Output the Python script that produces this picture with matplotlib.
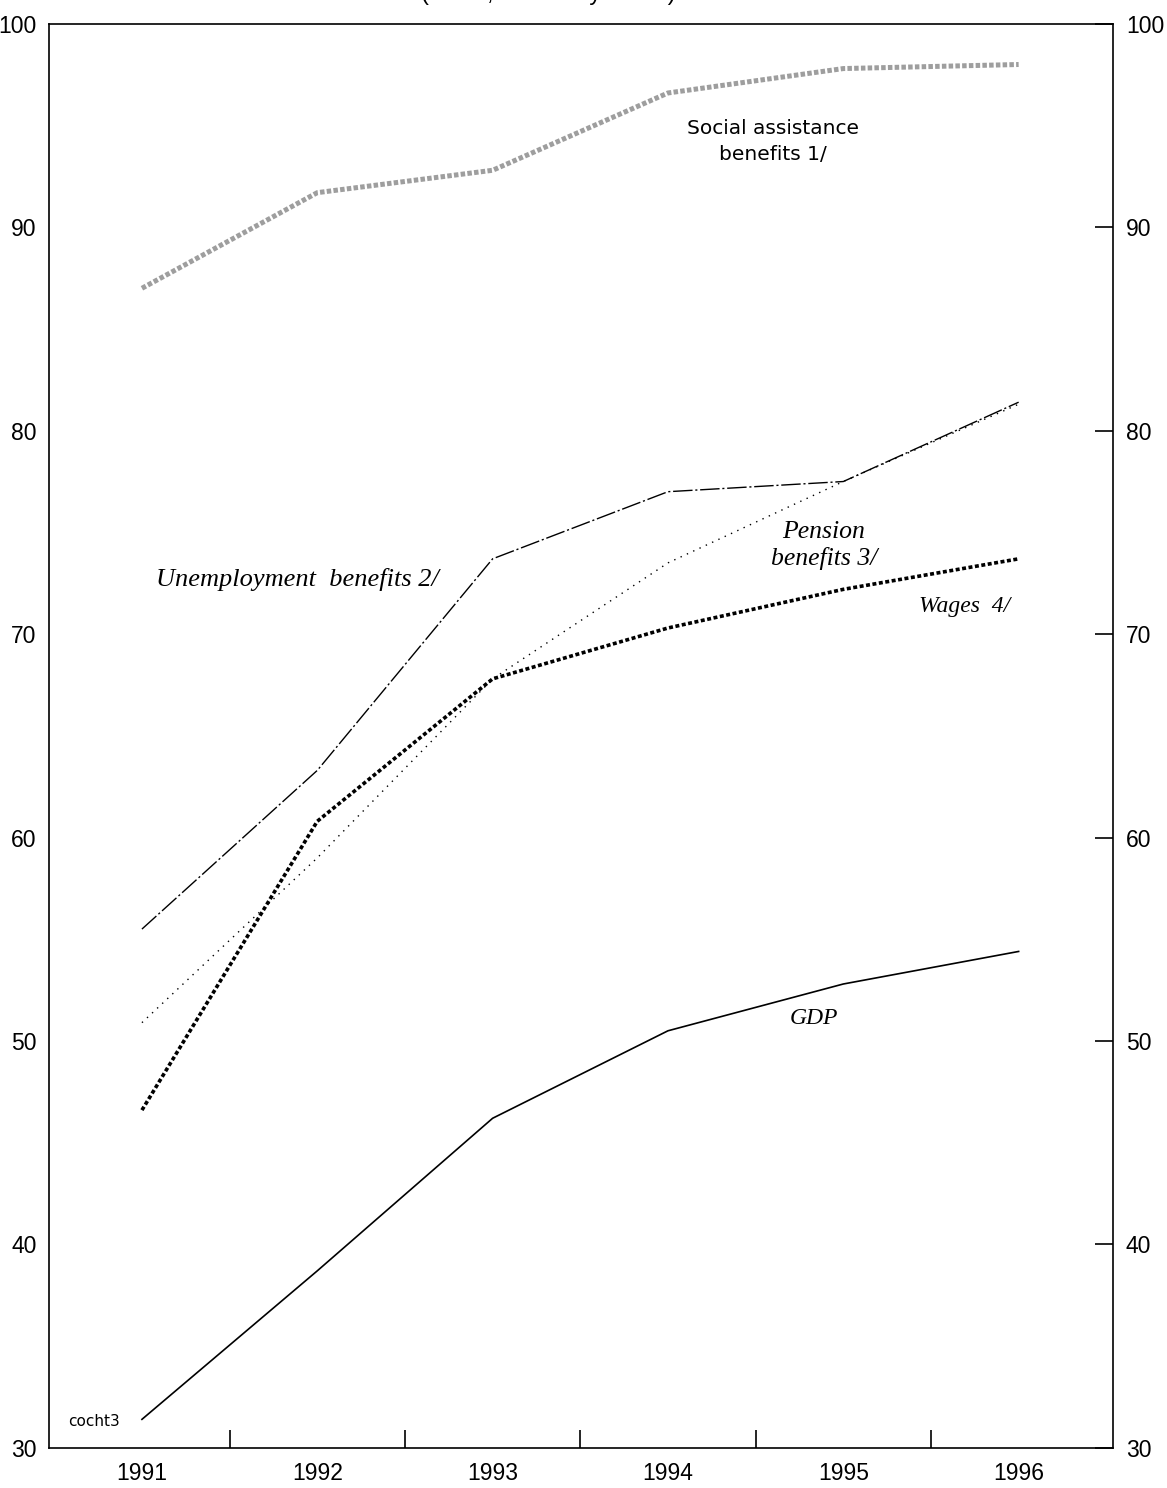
import matplotlib.pyplot as plt
from matplotlib.ticker import FixedLocator

years = [1991, 1992, 1993, 1994, 1995, 1996]

social_assistance = [87.0, 91.7, 92.8, 96.6, 97.8, 98.0]
unemployment = [55.5, 63.3, 73.7, 77.0, 77.5, 81.4]
pension = [50.9, 59.0, 67.8, 73.5, 77.5, 81.3]
wages = [46.6, 60.8, 67.8, 70.3, 72.2, 73.7]
gdp = [31.4, 38.7, 46.2, 50.5, 52.8, 54.4]

y_ticks = [30, 40, 50, 60, 70, 80, 90, 100]

plt.rcParams.update({
    "font.family": ["Liberation Sans", "DejaVu Sans"],
    "axes.linewidth": 1.2,
})

fig = plt.figure(figsize=(11.67, 14.88), dpi=100)
ax = fig.add_axes([0.042, 0.027, 0.912, 0.957])

# series
ax.plot(years, social_assistance, color="0.62", lw=3.6, ls=(0, (0.9, 0.45)))
ax.plot(years, unemployment, color="black", lw=1.0, ls=(0, (14, 2, 1.5, 2)))
ax.plot(years, pension, color="black", lw=1.0, ls=(0, (1, 4)))
ax.plot(years, wages, color="black", lw=2.6, ls=(0, (1.1, 0.7)))
ax.plot(years, gdp, color="black", lw=1.2)

ax.set_xlim(1990.47, 1996.54)
ax.set_ylim(30, 100)

# x axis: year labels without ticks, short inward ticks between years
ax.set_xticks(years)
ax.set_xticklabels([str(y) for y in years], fontsize=16.5)
ax.xaxis.set_minor_locator(FixedLocator([y + 0.5 for y in years[:-1]]))
ax.tick_params(axis="x", which="major", length=0, pad=10)
ax.tick_params(axis="x", which="minor", direction="in", length=13, width=1.2)

# y axis: labels on both sides, ticks only on the right, pointing in
ax.set_yticks(y_ticks)
ax.tick_params(axis="y", which="major", left=False, right=True,
               labelleft=True, labelright=True, direction="in",
               length=13, width=1.2, labelsize=16.5, pad=9)

# series labels
serif = ["Liberation Serif", "DejaVu Serif"]
ax.text(1994.6, 94.2, "Social assistance\nbenefits 1/", ha="center", va="center",
        fontsize=14.5, family="DejaVu Sans", linespacing=1.45)
ax.text(1991.08, 72.7, "Unemployment  benefits 2/", ha="left", va="center",
        fontsize=19, family=serif, style="italic")
ax.text(1994.89, 74.35, "Pension\nbenefits 3/", ha="center", va="center",
        fontsize=18.5, family=serif, style="italic", linespacing=1.2)
ax.text(1995.95, 71.35, "Wages  4/", ha="right", va="center",
        fontsize=17, family=serif, style="italic")
ax.text(1994.83, 51.1, "GDP", ha="center", va="center",
        fontsize=17, family=serif, style="italic")
ax.text(1990.58, 31.3, "cocht3", ha="left", va="center", fontsize=11,
        family="DejaVu Sans")

# title, cut off at the top edge of the scan
fig.text(0.47, 1.0 + 6 / 1488, "(Index; 1991 July = 100)", ha="center",
         va="center", fontsize=17)

fig.savefig("out.png", dpi=100)
